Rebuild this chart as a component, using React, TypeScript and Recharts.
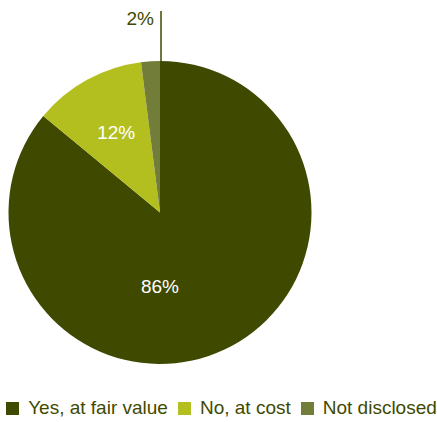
import { PieChart, Pie, Cell, Legend } from "recharts";

const categories = ["Yes, at fair value", "No, at cost", "Not disclosed"];
const shares = [86, 12, 2];
const colors = ["#3f4a00", "#b3bf1f", "#737d3a"];

const FONT = "'Liberation Sans', Arial, Helvetica, sans-serif";
const TEXT_DARK = "#3f4a00";

const chartData = categories.map((name, i) => ({ name, value: shares[i] }));

if (typeof document !== "undefined") {
    document.body.style.margin = "0";
}

const RAD = Math.PI / 180;

// labels: big slice text sits below centre, small slice gets a leader line
function renderLabel(props: any) {
    const { cx, cy, outerRadius, midAngle, index, value } = props;
    if (index === 0) {
        return (
            <text x={cx} y={cy + outerRadius * 0.49} fill="#ffffff" textAnchor="middle"
                dominantBaseline="central" fontSize={19} fontFamily={FONT}>
                {value}%
            </text>
        );
    }
    if (index === 1) {
        const r = outerRadius * 0.6;
        const x = cx + r * Math.cos(-midAngle * RAD);
        const y = cy + r * Math.sin(-midAngle * RAD);
        return (
            <text x={x} y={y} fill="#ffffff" textAnchor="middle"
                dominantBaseline="central" fontSize={19} fontFamily={FONT}>
                {value}%
            </text>
        );
    }
    // leader line goes straight up from the top of the pie
    const x = cx + outerRadius * Math.cos(-90 * RAD);
    const y0 = cy - outerRadius;
    const y1 = y0 - 50;
    return (
        <g>
            <line x1={x + 1} y1={y0} x2={x + 1} y2={y1} stroke={TEXT_DARK} strokeWidth={1.5} />
            <text x={x - 6} y={y1 + 7} fill={TEXT_DARK} textAnchor="end"
                dominantBaseline="central" fontSize={19} fontFamily={FONT}>
                {value}%
            </text>
        </g>
    );
}

function LegendContent() {
    return (
        <div style={{ display: "flex", justifyContent: "center", alignItems: "center", fontFamily: FONT, fontSize: 19, color: TEXT_DARK }}>
            {categories.map((name, i) => (
                <div key={name} style={{ display: "flex", alignItems: "center", marginRight: i < categories.length - 1 ? 10 : 0 }}>
                    <span style={{ display: "inline-block", width: 13, height: 13, background: colors[i], marginRight: 9 }} />
                    <span>{name}</span>
                </div>
            ))}
        </div>
    );
}

export default function App() {
    return (
        <div style={{ width: 437, height: 422 }}>
            <PieChart width={437} height={422} margin={{ top: 0, right: 0, bottom: 0, left: 0 }}>
                <Pie
                    data={chartData}
                    dataKey="value"
                    nameKey="name"
                    cx={160}
                    cy={212.5}
                    outerRadius={151.5}
                    startAngle={90}
                    endAngle={-270}
                    stroke="none"
                    label={renderLabel}
                    labelLine={false}
                    isAnimationActive={false}
                >
                    {chartData.map((d, i) => (
                        <Cell key={d.name} fill={colors[i]} />
                    ))}
                </Pie>
                <Legend
                    content={<LegendContent />}
                    wrapperStyle={{ left: 3, top: 397, width: 437 }}
                />
            </PieChart>
        </div>
    );
}
